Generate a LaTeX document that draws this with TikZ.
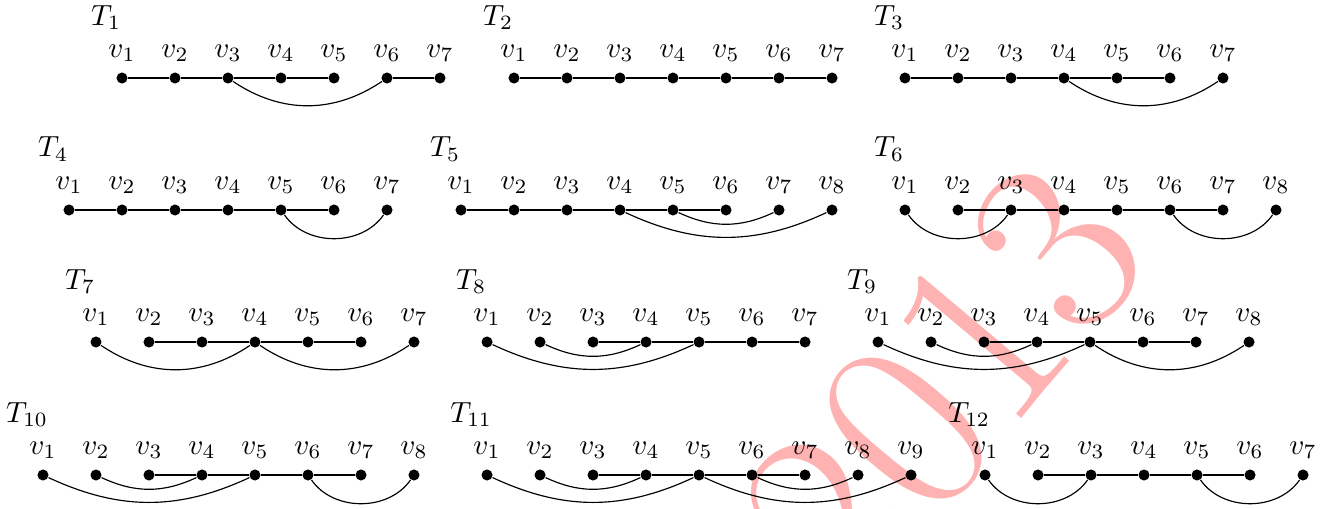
\documentclass[tikz,border=0pt]{standalone}
\begin{document}
\begin{tikzpicture}[
    x=0.64cm, y=0.64cm,
    vtx/.style={circle, fill, inner sep=0pt, minimum size=3.8pt, label=above:$v_{#1}$},
    tname/.style={anchor=base},
    tline/.style={line width=0.8pt},
    arcflat/.style={tline, out=-25, in=-155},
    arcmid/.style={tline, out=-34, in=-146},
    arcdeep/.style={tline, out=-55, in=-125},
    wmark/.style={text=red!30, font=\fontsize{88}{88}\selectfont, rotate=50},
]
\useasboundingbox (0,0) rectangle (25.075,9.585);

% watermark behind everything
\node[wmark] (wm) at (17.8,2.35) {2013};

% ================== vertices ==================
\foreach \t/\x/\y/\n in {1/2.302/8.113/7, 2/9.698/8.113/7, 3/17.075/8.113/7,
                         4/1.302/5.623/7, 5/8.698/5.623/8, 6/17.075/5.623/8,
                         7/1.811/3.132/7, 8/9.189/3.132/7, 9/16.566/3.132/8,
                         10/0.811/0.623/8, 11/9.189/0.623/9, 12/18.585/0.623/7} {
  \node[tname] (T\t) at (\x-0.3,\y+1) {$T_{\t}$};
  \foreach \i in {1,...,\n}
    \node[vtx=\i] (t\t-\i) at (\x+\i-1,\y) {};
}

% ================== T1 -- T3 ==================
\draw[tline] (t1-1) -- (t1-2) -- (t1-3) -- (t1-4) -- (t1-5);
\draw[tline] (t1-6) -- (t1-7);
\draw (t1-3) to[arcmid] (t1-6);

\draw[tline] (t2-1) -- (t2-2) -- (t2-3) -- (t2-4) -- (t2-5) -- (t2-6) -- (t2-7);

\draw[tline] (t3-1) -- (t3-2) -- (t3-3) -- (t3-4) -- (t3-5) -- (t3-6);
\draw (t3-4) to[arcmid] (t3-7);

% ================== T4 -- T6 ==================
\draw[tline] (t4-1) -- (t4-2) -- (t4-3) -- (t4-4) -- (t4-5) -- (t4-6);
\draw (t4-5) to[arcdeep] (t4-7);

\draw[tline] (t5-1) -- (t5-2) -- (t5-3) -- (t5-4) -- (t5-5) -- (t5-6);
\draw (t5-5) to[arcflat] (t5-7);
\draw (t5-4) to[arcflat] (t5-8);

\draw[tline] (t6-2) -- (t6-3) -- (t6-4) -- (t6-5) -- (t6-6) -- (t6-7);
\draw (t6-1) to[arcdeep] (t6-3);
\draw (t6-6) to[arcdeep] (t6-8);

% ================== T7 -- T9 ==================
\draw[tline] (t7-2) -- (t7-3) -- (t7-4) -- (t7-5) -- (t7-6);
\draw (t7-1) to[arcmid] (t7-4);
\draw (t7-4) to[arcmid] (t7-7);

\draw[tline] (t8-3) -- (t8-4) -- (t8-5) -- (t8-6) -- (t8-7);
\draw (t8-2) to[arcflat] (t8-4);
\draw (t8-1) to[arcflat] (t8-5);

\draw[tline] (t9-3) -- (t9-4) -- (t9-5) -- (t9-6) -- (t9-7);
\draw (t9-2) to[arcflat] (t9-4);
\draw (t9-1) to[arcflat] (t9-5);
\draw (t9-5) to[arcmid] (t9-8);

% ================== T10 -- T12 ==================
\draw[tline] (t10-3) -- (t10-4) -- (t10-5) -- (t10-6) -- (t10-7);
\draw (t10-2) to[arcflat] (t10-4);
\draw (t10-1) to[arcflat] (t10-5);
\draw (t10-6) to[arcdeep] (t10-8);

\draw[tline] (t11-3) -- (t11-4) -- (t11-5) -- (t11-6) -- (t11-7);
\draw (t11-2) to[arcflat] (t11-4);
\draw (t11-1) to[arcflat] (t11-5);
\draw (t11-6) to[arcflat] (t11-8);
\draw (t11-5) to[arcflat] (t11-9);

\draw[tline] (t12-2) -- (t12-3) -- (t12-4) -- (t12-5) -- (t12-6);
\draw (t12-1) to[arcdeep] (t12-3);
\draw (t12-5) to[arcdeep] (t12-7);

\end{tikzpicture}
\end{document}
